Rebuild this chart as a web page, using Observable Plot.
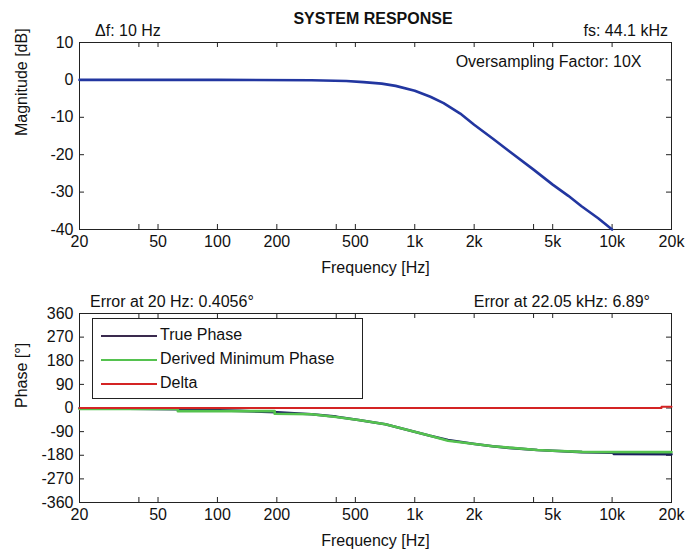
<!DOCTYPE html>
<html><head><meta charset="utf-8">
<script src="https://cdn.jsdelivr.net/npm/d3@7"></script>
<script src="https://cdn.jsdelivr.net/npm/@observablehq/plot@0.6"></script>
<style>
body{margin:0;background:#fff;font-family:"Liberation Sans",Arial,sans-serif;}
#wrap{position:relative;width:700px;height:551px;overflow:hidden;background:#fff;}
#wrap svg{position:absolute;left:0;}
.t{position:absolute;font-size:16px;color:#111;white-space:nowrap;line-height:16px;}
.leg{position:absolute;left:92px;top:318px;width:269px;height:79px;border:1px solid #222;background:#fff;}
.leg .ln{position:absolute;left:8px;width:56px;height:0;border-top:2px solid;}
.leg .tx{position:absolute;left:67px;font-size:16px;line-height:16px;color:#111;white-space:nowrap;}
</style></head><body><div id="wrap"></div>
<script>
// ---- data ----
const xTicks = [20, 40, 50, 100, 200, 400, 500, 1000, 2000, 4000, 5000, 10000, 20000];
const xTickLabels = [20, 50, 100, 200, 500, 1000, 2000, 5000, 10000, 20000];
const magTicks = [10, 0, -10, -20, -30, -40];
const phaseTicks = [360, 270, 180, 90, 0, -90, -180, -270, -360];

const magFreq = [20, 100, 300, 450, 550, 680, 800, 1000, 1200, 1400, 1700, 2000, 2500, 3000, 4000, 5000, 6000, 7000, 8500, 10000];
const magDb   = [0, 0, -0.1, -0.3, -0.6, -1.0, -1.6, -2.9, -4.5, -6.2, -9.0, -12, -15.8, -19, -24, -28, -31, -33.8, -37, -40];

const derivedFreq  = [20, 63, 63, 195, 195, 300, 400, 519, 710, 921, 1195, 1473, 2014, 2479, 3000, 4180, 5000, 7050, 20000];
const derivedPhase = [-4, -4, -12, -12, -22, -24, -34, -46, -62, -84, -106, -125, -137, -146, -151, -160, -163, -167, -168];

const trueFreq  = [20, 63, 130, 200, 300, 400, 519, 710, 921, 1195, 1473, 2014, 2479, 3000, 4180, 5000, 7050, 10200, 10200, 20000];
const truePhase = [-1, -5, -11, -16, -24, -33, -46, -62, -84, -106, -122, -137, -146, -152, -160, -163, -168, -170, -175, -176];

const deltaFreq  = [20, 17800, 17800, 20000];
const deltaPhase = [0, 0, 5, 5];

// ---- helpers ----
const W = 700, ML = 79, MR = 29;
const FW = W - ML - MR;
const fmtHz = d => d >= 1000 ? (d / 1000) + "k" : String(d);
const font = {fontSize: "16px", fontFamily: "'Liberation Sans', Arial, sans-serif", color: "#111", background: "transparent"};
const toPts = (f, v) => f.map((d, i) => ({f: d, v: v[i]}));

function frameMarks(fh, yTicks, yLabel) {
  return [
    Plot.tickX(xTicks, {x: d => d, insetTop: fh - 5, stroke: "#222"}),
    Plot.tickX(xTicks, {x: d => d, insetBottom: fh - 5, stroke: "#222"}),
    Plot.tickY(yTicks, {y: d => d, insetRight: FW - 5, stroke: "#222"}),
    Plot.tickY(yTicks, {y: d => d, insetLeft: FW - 5, stroke: "#222"}),
    Plot.text(xTickLabels, {x: d => d, text: fmtHz, frameAnchor: "bottom", lineAnchor: "top", dy: 6, fill: "#111"}),
    Plot.text(yTicks, {y: d => d, text: d => String(d), frameAnchor: "left", textAnchor: "end", dx: -6, fill: "#111"}),
    Plot.text(["Frequency [Hz]"], {text: d => d, frameAnchor: "bottom", lineAnchor: "top", dy: 32, fill: "#111"}),
    Plot.text([yLabel], {text: d => d, frameAnchor: "left", rotate: -90, lineAnchor: "bottom", dx: -53, fill: "#111"}),
    Plot.frame({stroke: "#222"})
  ];
}

// ---- top: magnitude ----
const topH = 285, topMT = 42, topMB = 56;
const magPlot = Plot.plot({
  width: W, height: topH, marginLeft: ML, marginRight: MR, marginTop: topMT, marginBottom: topMB,
  style: font,
  x: {type: "log", domain: [20, 20000], axis: null},
  y: {domain: [-40, 10], axis: null},
  marks: [
    ...frameMarks(topH - topMT - topMB, magTicks, "Magnitude [dB]"),
    Plot.line(toPts(magFreq, magDb), {x: "f", y: "v", stroke: "#2236a0", strokeWidth: 2.6}),
    Plot.text(["Oversampling Factor: 10X"], {text: d => d, frameAnchor: "top-right", dx: -30, dy: 13, fontSize: 16, fill: "#111"})
  ]
});
magPlot.style.top = "0px";

// ---- bottom: phase ----
const botTop = 285, botH = 266, botMT = 28, botMB = 49;
const phasePlot = Plot.plot({
  width: W, height: botH, marginLeft: ML, marginRight: MR, marginTop: botMT, marginBottom: botMB,
  style: font,
  x: {type: "log", domain: [20, 20000], axis: null},
  y: {domain: [-360, 360], axis: null},
  marks: [
    ...frameMarks(botH - botMT - botMB, phaseTicks, "Phase [°]"),
    Plot.line(toPts(trueFreq, truePhase), {x: "f", y: "v", stroke: "#1b1f5e", strokeWidth: 2.6}),
    Plot.line(toPts(derivedFreq, derivedPhase), {x: "f", y: "v", stroke: "#55c24f", strokeWidth: 2.6}),
    Plot.line(toPts(deltaFreq, deltaPhase), {x: "f", y: "v", stroke: "#d42424", strokeWidth: 2})
  ]
});
phasePlot.style.top = botTop + "px";

const wrap = document.getElementById("wrap");
wrap.append(magPlot, phasePlot);

function addText(txt, css, cls = "t") {
  const d = document.createElement("div");
  d.className = cls; d.textContent = txt;
  Object.assign(d.style, css);
  wrap.append(d);
  return d;
}
addText("SYSTEM RESPONSE", {left: "0px", width: "746px", textAlign: "center", top: "11px", fontWeight: "bold", fontSize: "16px"});
addText("\u0394f: 10 Hz", {left: "95px", top: "23px"});
addText("fs: 44.1 kHz", {right: "32px", top: "23px"});
addText("Error at 20 Hz: 0.4056\u00b0", {left: "90px", top: "294px"});
addText("Error at 22.05 kHz: 6.89\u00b0", {right: "50px", top: "294px"});

// legend
const legItems = [
  {name: "True Phase", color: "#3a2a4e"},
  {name: "Derived Minimum Phase", color: "#55c24f"},
  {name: "Delta", color: "#d42424"}
];
const leg = document.createElement("div");
leg.className = "leg";
legItems.forEach((it, i) => {
  const ln = document.createElement("div");
  ln.className = "ln"; ln.style.top = (16 + i * 24) + "px"; ln.style.borderTopColor = it.color;
  const tx = document.createElement("div");
  tx.className = "tx"; tx.style.top = (8 + i * 24) + "px"; tx.textContent = it.name;
  leg.append(ln, tx);
});
wrap.append(leg);
</script>
</body></html>
